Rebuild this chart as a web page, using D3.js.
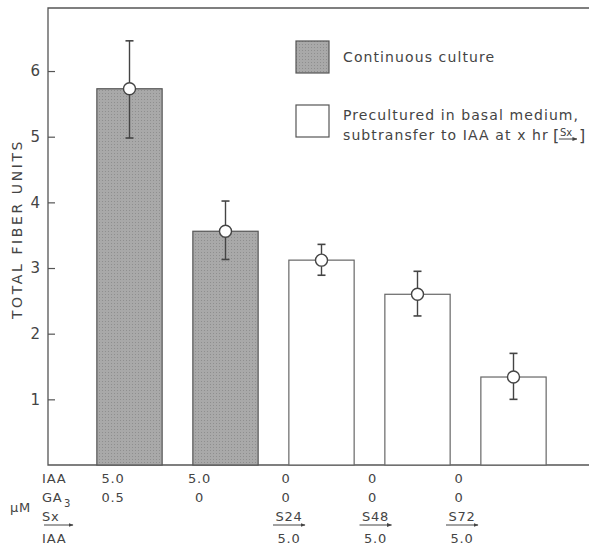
<!DOCTYPE html>
<meta charset="utf-8">
<style>
  body { margin: 0; background: #fff; }
  svg { display: block; }
  text { font-family: "DejaVu Sans", sans-serif; fill: #444; }
  .tick text { font-size: 15px; }
  .lbl { font-size: 13px; letter-spacing: 0.8px; }
  .leg { font-size: 14px; letter-spacing: 1.1px; }
</style>
<body>
<svg width="589" height="547"></svg>
<script src="https://d3js.org/d3.v7.min.js"></script>
<script>
const groups = ["cont1", "cont2", "S24", "S48", "S72"];
const kind = ["continuous", "continuous", "precultured", "precultured", "precultured"];
const means = [5.73, 3.56, 3.12, 2.60, 1.34];
const upper = [6.46, 4.02, 3.36, 2.95, 1.70];
const lower = [4.98, 3.13, 2.89, 2.27, 1.00];
const yTicks = [1, 2, 3, 4, 5, 6];

const rowIAA = ["5.0", "5.0", "0", "0", "0"];
const rowGA3 = ["0.5", "0", "0", "0", "0"];
const rowSx = ["", "", "S24", "S48", "S72"];
const rowIAA2 = ["", "", "5.0", "5.0", "5.0"];

const W = 589, H = 547;
const mLeft = 48, mTop = 8, mBottom = 465;
const svg = d3.select("svg");

const defs = svg.append("defs");
defs.append("marker")
  .attr("id", "arr").attr("viewBox", "0 0 10 10")
  .attr("refX", 9).attr("refY", 5)
  .attr("markerWidth", 5).attr("markerHeight", 5)
  .attr("orient", "auto")
  .append("path").attr("d", "M0,1L10,5L0,9Z").attr("fill", "#444");

const pat = defs.append("pattern")
  .attr("id", "stip").attr("width", 3).attr("height", 3)
  .attr("patternUnits", "userSpaceOnUse");
pat.append("rect").attr("width", 3).attr("height", 3).attr("fill", "#a9a9a9");
pat.append("rect").attr("width", 1).attr("height", 1).attr("fill", "#8f8f8f");

const y = d3.scaleLinear().domain([0, 6.96]).range([mBottom, mTop]);
const x = d3.scaleBand().domain(groups).range([81.5, 561.5])
  .paddingInner(0.32).paddingOuter(0.16);

// frame (open on the right, as in the figure)
svg.append("path")
  .attr("d", `M${W},${mTop}H${mLeft}V${mBottom}H${W}`)
  .attr("fill", "none").attr("stroke", "#555").attr("stroke-width", 1.3);

const yAxis = svg.append("g")
  .attr("transform", `translate(${mLeft},0)`)
  .call(d3.axisRight(y).tickValues(yTicks).tickSize(7).tickFormat(d3.format("d")));
yAxis.select(".domain").remove();
yAxis.selectAll(".tick line").attr("stroke", "#555").attr("stroke-width", 1.2);
yAxis.selectAll(".tick text").attr("x", -8).attr("text-anchor", "end").attr("fill", "#444");

svg.append("text")
  .attr("class", "leg")
  .attr("transform", `translate(22,229) rotate(-90)`)
  .attr("text-anchor", "middle")
  .style("letter-spacing", "2.6px")
  .text("TOTAL FIBER UNITS");

// bars
svg.append("g").selectAll("rect")
  .data(groups)
  .join("rect")
  .attr("x", d => x(d))
  .attr("width", x.bandwidth())
  .attr("y", (d, i) => y(means[i]))
  .attr("height", (d, i) => y(0) - y(means[i]))
  .attr("fill", (d, i) => kind[i] === "continuous" ? "url(#stip)" : "#fff")
  .attr("stroke", (d, i) => kind[i] === "continuous" ? "#555" : "#666")
  .attr("stroke-width", 1.2);

// error bars
const eb = svg.append("g").selectAll("g")
  .data(groups)
  .join("g")
  .attr("transform", d => `translate(${x(d) + x.bandwidth() / 2},0)`);
eb.append("line")
  .attr("y1", (d, i) => y(upper[i])).attr("y2", (d, i) => y(lower[i]))
  .attr("stroke", "#444").attr("stroke-width", 1.4);
eb.append("line")
  .attr("x1", -4).attr("x2", 4)
  .attr("y1", (d, i) => y(upper[i])).attr("y2", (d, i) => y(upper[i]))
  .attr("stroke", "#444").attr("stroke-width", 1.6);
eb.append("line")
  .attr("x1", -4).attr("x2", 4)
  .attr("y1", (d, i) => y(lower[i])).attr("y2", (d, i) => y(lower[i]))
  .attr("stroke", "#444").attr("stroke-width", 1.6);
eb.append("circle")
  .attr("cy", (d, i) => y(means[i]))
  .attr("r", 6)
  .attr("fill", "#fff").attr("stroke", "#444").attr("stroke-width", 1.4);

// legend
const lg = svg.append("g").attr("transform", "translate(296,41)");
lg.append("rect").attr("width", 33).attr("height", 32)
  .attr("fill", "url(#stip)").attr("stroke", "#555").attr("stroke-width", 1.2);
lg.append("text").attr("class", "leg").attr("x", 47).attr("y", 21).text("Continuous culture");
lg.append("rect").attr("y", 64).attr("width", 33).attr("height", 32)
  .attr("fill", "#fff").attr("stroke", "#555").attr("stroke-width", 1.2);
lg.append("text").attr("class", "leg").attr("x", 47).attr("y", 79).text("Precultured in basal medium,");
const sub = lg.append("text").attr("class", "leg").attr("x", 47).attr("y", 99)
  .text("subtransfer to IAA at x hr");
const bx = 47 + sub.node().getComputedTextLength() + 4;
lg.append("text").attr("x", bx).attr("y", 100).style("font-size", "16px").text("[");
lg.append("text").attr("x", bx + 7).attr("y", 95).style("font-size", "10px").text("Sx");
lg.append("line").attr("x1", bx + 6).attr("x2", bx + 24).attr("y1", 98).attr("y2", 98)
  .attr("stroke", "#444").attr("marker-end", "url(#arr)");
lg.append("text").attr("x", bx + 26).attr("y", 100).style("font-size", "16px").text("]");

// treatment table below the axis
const cx = d3.scalePoint().domain(groups).range([113, 459]);
const tbl = svg.append("g");
const rowY = [483, 502, 521, 543];
const rowHead = ["IAA", "GA", "Sx", "IAA"];
tbl.selectAll("text.head")
  .data(rowHead)
  .join("text")
  .attr("class", "lbl head")
  .attr("x", 42).attr("y", (d, i) => rowY[i])
  .text(d => d);
tbl.append("text").attr("class", "lbl").attr("x", 64).attr("y", rowY[1] + 5)
  .style("font-size", "10px").text("3");
tbl.append("line").attr("x1", 44).attr("x2", 73).attr("y1", rowY[2] + 4).attr("y2", rowY[2] + 4)
  .attr("stroke", "#444").attr("marker-end", "url(#arr)");
tbl.append("text").attr("class", "lbl").attr("x", 10).attr("y", 512).text("\u03bcM");

[rowIAA, rowGA3, rowSx, rowIAA2].forEach((row, r) => {
  tbl.append("g").selectAll("text")
    .data(groups)
    .join("text")
    .attr("class", "lbl")
    .attr("x", d => cx(d) + (r >= 2 ? 3 : 0))
    .attr("y", rowY[r])
    .attr("text-anchor", "middle")
    .text((d, i) => row[i]);
});
tbl.append("g").selectAll("line")
  .data(groups.filter((d, i) => rowSx[i] !== ""))
  .join("line")
  .attr("x1", d => cx(d) - 13).attr("x2", d => cx(d) + 19)
  .attr("y1", rowY[2] + 4).attr("y2", rowY[2] + 4)
  .attr("stroke", "#444").attr("marker-end", "url(#arr)");
</script>
</body>
